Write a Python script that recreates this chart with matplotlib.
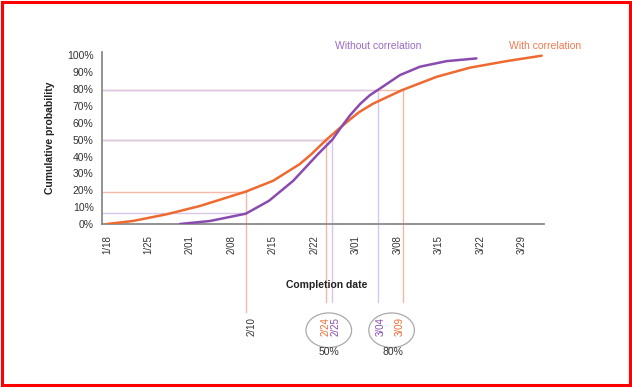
import matplotlib
matplotlib.use("Agg")
import matplotlib.pyplot as plt
from matplotlib.patches import Ellipse, Rectangle

plt.rcParams['font.family'] = ['Liberation Sans', 'DejaVu Sans']

# day of year (non-leap year) and cumulative probability in %
with_days = [18, 22.4, 28.1, 33.7, 41.4, 46.0, 50.5, 52.5, 55.0, 57.3, 58.4, 60.5, 62.9, 67.7, 73.6, 79.2, 85.4, 91.3]
with_prob = [0, 1.8, 5.8, 10.7, 19.2, 25.6, 35.5, 41.5, 50, 57, 60.3, 66.3, 71.4, 79.3, 87.3, 92.7, 96.6, 99.8]

without_days = [30.3, 35.4, 41.4, 45.3, 49.4, 53.6, 56.0, 57.3, 59.0, 60.7, 62.3, 63.9, 67.4, 70.8, 75.3, 80.3]
without_prob = [0, 1.8, 6.1, 13.7, 25.6, 41.5, 50, 56.5, 64.5, 71.2, 76.3, 80, 88.3, 93.3, 96.6, 98.2]

tick_days = [18, 25, 32, 39, 46, 53, 60, 67, 74, 81, 88]
tick_labels = ['1/18', '1/25', '2/01', '2/08', '2/15', '2/22', '3/01', '3/08', '3/15', '3/22', '3/29']
ytick_vals = [0, 10, 20, 30, 40, 50, 60, 70, 80, 90, 100]

# read-offs: (day, probability, label)
with_marks = [(41.4, 19, '2/10'), (55, 50, '2/24'), (68, 79.5, '3/09')]
without_marks = [(41.4, 6.3, None), (56, 50, '2/25'), (63.7, 79.5, '3/04')]

orange = '#EE6A30'
purple = '#8A4BAF'
orange_ref = '#F5B9AA'
purple_ref = '#D6C8E6'
grey = '#333333'

fig = plt.figure(figsize=(6.32, 3.88), dpi=100)
ax = fig.add_axes([102/632, 1 - 224/388, 442/632, 172/388])
ax.set_xlim(17.16, 91.7)
ax.set_ylim(0, 102)

# reference lines
for d, p, lab in with_marks:
    ax.plot([17.16, d], [p, p], color=orange_ref, lw=1, zorder=1)
for d, p, lab in without_marks:
    ax.plot([17.16, d], [p, p], color=purple_ref, lw=1, zorder=1)
for d, p, lab in with_marks:
    low = -52 if lab == '2/10' else -46
    ax.plot([d, d], [p, low], color=orange_ref, lw=1, zorder=1, clip_on=False)
for d, p, lab in without_marks:
    if lab:
        ax.plot([d, d], [p, -46], color=purple_ref, lw=1, zorder=1, clip_on=False)

ax.plot(with_days, with_prob, color=orange, lw=1.8, zorder=3, solid_capstyle='round',
        solid_joinstyle='round')
ax.plot(without_days, without_prob, color=purple, lw=1.8, zorder=3, solid_capstyle='round',
        solid_joinstyle='round')

ax.text(63.8, 105.6, 'Without correlation', color='#9C6BC6', fontsize=7.5, ha='center', va='center')
ax.text(91.8, 105.6, 'With correlation', color='#F07A50', fontsize=7.5, ha='center', va='center')

for s in ['top', 'right']:
    ax.spines[s].set_visible(False)
for s in ['left', 'bottom']:
    ax.spines[s].set_color('#8a8a8a')
    ax.spines[s].set_linewidth(1.3)

ax.set_xticks(tick_days)
ax.set_xticklabels(tick_labels, rotation=90, fontsize=7, color=grey)
ax.set_yticks(ytick_vals)
ax.set_yticklabels([f'{v}%' for v in ytick_vals], fontsize=7.5, color=grey)
ax.tick_params(length=0)
ax.tick_params(axis='x', pad=8)
ax.tick_params(axis='y', pad=6)

ax.set_ylabel('Cumulative probability', fontsize=7.5, fontweight='bold', color='#222222', labelpad=9)
ax.text(55.1, -36, 'Completion date', fontsize=7.5, fontweight='bold', color='#222222',
        ha='center', va='center', clip_on=False)

# bottom annotations
ax.text(42.3, -61, '2/10', rotation=90, fontsize=7, color=grey, ha='center', va='center')
ax.text(54.9, -61, '2/24', rotation=90, fontsize=7, color=orange, ha='center', va='center')
ax.text(56.6, -61, '2/25', rotation=90, fontsize=7, color=purple, ha='center', va='center')
ax.text(64.2, -61, '3/04', rotation=90, fontsize=7, color=purple, ha='center', va='center')
ax.text(67.4, -61, '3/09', rotation=90, fontsize=7, color=orange, ha='center', va='center')
for cx in [55.4, 66.0]:
    ax.add_patch(Ellipse((cx, -63), 7.7, 20.5, fill=False, edgecolor='#aaaaaa', lw=0.9, clip_on=False))
ax.text(55.4, -76, '50%', fontsize=7.5, color=grey, ha='center', va='center')
ax.text(66.2, -76, '80%', fontsize=7.5, color=grey, ha='center', va='center')

# red frame
fig.patches.append(Rectangle((1.5/632, 1 - 385/388), 628.5/632, 383.5/388, transform=fig.transFigure,
                             fill=False, edgecolor='#ff0000', lw=2.2))

fig.savefig('out.png', dpi=100)
